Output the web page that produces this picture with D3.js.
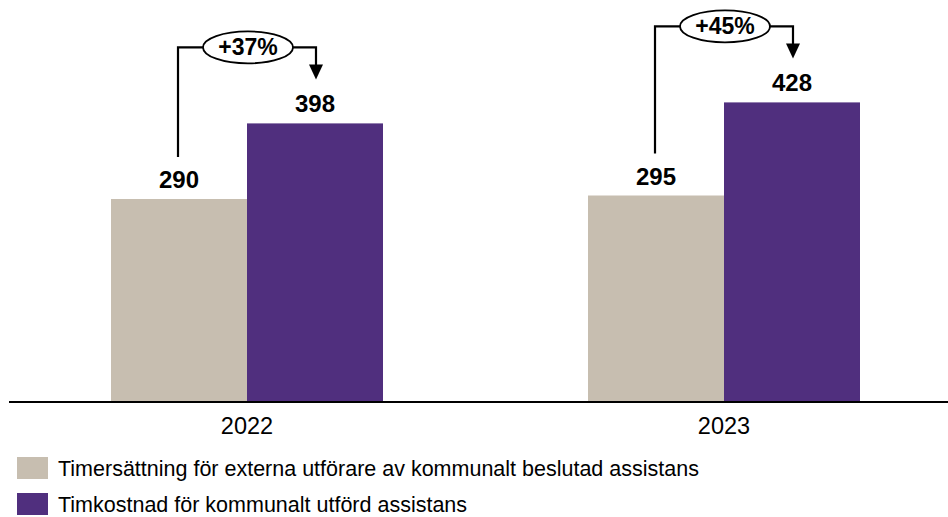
<!DOCTYPE html>
<html><head><meta charset="utf-8">
<script src="https://cdn.jsdelivr.net/npm/d3@7"></script>
<style>body{margin:0;background:#fff}svg{display:block}text{font-family:Arial,"Liberation Sans",sans-serif}</style>
</head><body>
<svg id="c" width="948" height="517"></svg>
<script>
const years = ["2022", "2023"];
const seriesNames = ["Timersättning för externa utförare av kommunalt beslutad assistans", "Timkostnad för kommunalt utförd assistans"];
const externa = [290, 295];
const kommunal = [398, 428];
const changeLabels = ["+37%", "+45%"];
const colors = ["#c7beb0", "#502f7e"];

const svg = d3.select("#c");
const baseY = 402;
const y = d3.scaleLinear().domain([0, 100]).range([baseY, baseY - 70]);
const x0 = d3.scaleBand().domain(years).range([8.5, 962.5]).paddingInner(0.4298).paddingOuter(0.2149);
const x1 = d3.scaleBand().domain([0, 1]).range([0, x0.bandwidth()]);

const data = years.map((yr, i) => ({year: yr, vals: [externa[i], kommunal[i]], change: changeLabels[i]}));

const g = svg.selectAll("g.grp").data(data).join("g").attr("class", "grp")
  .attr("transform", d => `translate(${x0(d.year)},0)`);

g.selectAll("rect").data(d => d.vals.map((v, k) => ({v, k}))).join("rect")
  .attr("x", d => x1(d.k)).attr("width", x1.bandwidth())
  .attr("y", d => y(d.v)).attr("height", d => baseY - y(d.v))
  .attr("fill", d => colors[d.k]);

g.selectAll("text.val").data(d => d.vals.map((v, k) => ({v, k}))).join("text").attr("class", "val")
  .attr("x", d => x1(d.k) + x1.bandwidth() / 2).attr("y", d => y(d.v) - 11)
  .attr("text-anchor", "middle").attr("font-weight", "bold").attr("font-size", 24).attr("fill", "#000")
  .text(d => d.v);

// connectors
g.each(function(d) {
  const gg = d3.select(this);
  const xa = x1(0) + x1.bandwidth() / 2 - 1;
  const xb = x1(1) + x1.bandwidth() / 2 + 1;
  const yTanLabelTop = y(d.vals[0]) - 11 - 18;
  const yPurLabelTop = y(d.vals[1]) - 11 - 18;
  const hy = yPurLabelTop - 47;
  const tip = yPurLabelTop - 15;
  const cx = (xa + xb) / 2 + 1;
  gg.append("path")
    .attr("d", `M${xa},${yTanLabelTop - 13}V${hy}H${xb}V${tip - 12}`)
    .attr("fill", "none").attr("stroke", "#000").attr("stroke-width", 2.2);
  gg.append("path")
    .attr("d", `M${xb - 7},${tip - 15}L${xb + 7},${tip - 15}L${xb},${tip}Z`)
    .attr("fill", "#000");
  gg.append("ellipse").attr("cx", cx).attr("cy", hy).attr("rx", 45).attr("ry", 16)
    .attr("fill", "#fff").attr("stroke", "#000").attr("stroke-width", 1.8);
  gg.append("text").attr("x", cx).attr("y", hy + 8).attr("text-anchor", "middle")
    .attr("font-weight", "bold").attr("font-size", 23).text(d.change);
});

// axis
const axis = svg.append("g").attr("transform", `translate(0,${baseY})`)
  .call(d3.axisBottom(x0).tickSize(0).tickPadding(15));
axis.select(".domain").attr("d", `M9,0H948`).attr("stroke", "#000").attr("stroke-width", 2);
axis.selectAll(".tick text").attr("font-size", 23.5).attr("fill", "#000")
  .attr("font-family", "Arial, 'Liberation Sans', sans-serif");

// legend
const leg = svg.selectAll("g.leg").data(seriesNames).join("g").attr("class", "leg")
  .attr("transform", (d, i) => `translate(17,${457 + i * 36})`);
leg.append("rect").attr("width", 31).attr("height", 22).attr("fill", (d, i) => colors[i]);
leg.append("text").attr("x", 41).attr("y", 19).attr("font-size", 21.5).attr("fill", "#000").text(d => d);
</script>
</body></html>
